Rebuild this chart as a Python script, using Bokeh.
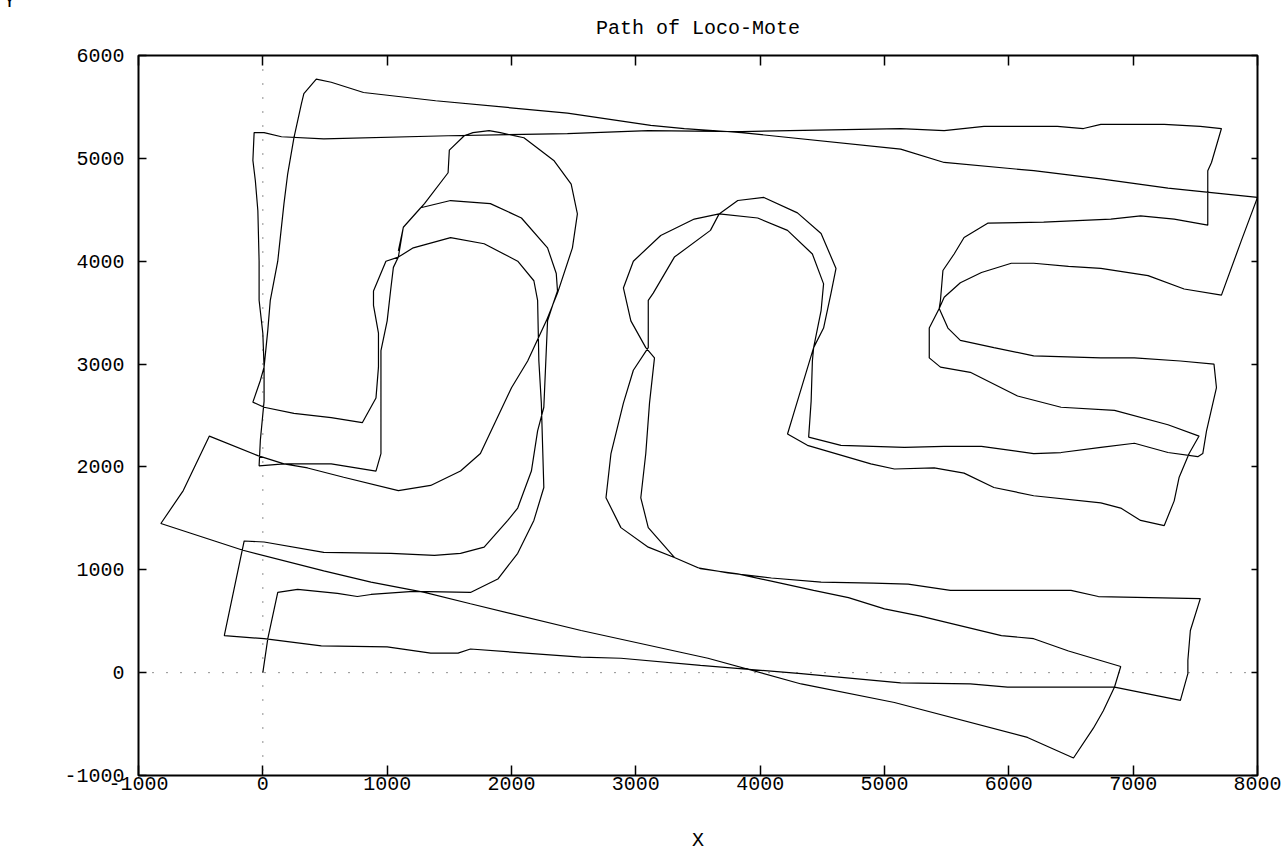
from bokeh.plotting import figure
from bokeh.models import Range1d, FixedTicker, LinearAxis, Span, Title
from bokeh.embed import file_html
from bokeh.resources import INLINE

title_text = "Path of Loco-Mote"
x_label = "X"
y_label = "Y"
x_ticks = [-1000, 0, 1000, 2000, 3000, 4000, 5000, 6000, 7000, 8000]
y_ticks = [-1000, 0, 1000, 2000, 3000, 4000, 5000, 6000]
x_tick_labels = ["-1000", "0", "1000", "2000", "3000", "4000", "5000", "6000", "7000", "8000"]
y_tick_labels = ["-1000", "0", "1000", "2000", "3000", "4000", "5000", "6000"]

path_x = [0, 40, 120, 280, 600, 760, 870, 1210, 1670, 1890, 2050, 2180, 2260, 2240, 2220, 2210,
          2180, 2050, 1780, 1510, 1210, 1090, 990, 890, 890, 930, 930, 910, 800, 550, 250, 10, -80,
          -20, 10, 0, -30, -30, -40, -60, -80, -70, 10, 150, 490, 1490, 2450, 3100, 3850, 5130,
          5480, 5800, 6390, 6600, 6740, 7250, 7540, 7710, 7630, 7600, 7600, 7330, 7060, 6820, 6280,
          5830, 5640, 5560, 5470, 5450, 5440, 5360, 5360, 5450, 5690, 6070, 6420, 6850, 7280, 7530,
          7450, 7370, 7330, 7250, 7060, 6900, 6740, 6200, 5880, 5640, 5400, 5080, 4890, 4380, 4220,
          4270, 4430, 4510, 4570, 4610, 4490, 4300, 4030, 3820, 3670, 3600, 3310, 3140, 3100, 3100,
          2980, 2900, 2800, 2760, 2880, 3100, 3310, 3520, 3820, 4090, 4430, 4710, 5000, 5290, 5940,
          6200, 6480, 6900, 6850, 6760, 6680, 6520, 6150, 5080, 4330, 3580, 2560, 1670, 1300, 870,
          490, -160, -820, -640, -430, -40, 170, 360, 650, 1090, 1350, 1590, 1750, 2000, 2130, 2280,
          2370, 2490, 2530, 2480, 2340, 2100, 1910, 1820, 1690, 1620, 1500, 1490, 1300, 1130, 1090,
          1050, 1030, 1000, 950, 950, 910, 550, 170, -30, -20, 10, 10, 40, 60, 120, 170, 200, 250,
          310, 330, 430, 550, 810, 1390, 2450, 3120, 3390, 3850, 5130, 5480, 6200, 6740, 7280, 8000,
          7870, 7710, 7410, 7120, 6740, 6480, 6200, 6020, 5780, 5610, 5480, 5440, 5510, 5610, 5880,
          6200, 6740, 7010, 7380, 7650, 7670, 7590, 7560, 7520, 7280, 7010, 6740, 6420, 6200, 5780,
          5480, 5160, 4650, 4390, 4410, 4420, 4430, 4490, 4510, 4420, 4220, 3980, 3670, 3470, 3200,
          2980, 2900, 2960, 3080, 3150, 3110, 3080, 3040, 3100, 3310, 3500, 3740, 4090, 4490, 4910,
          5190, 5530, 6500, 6720, 7540, 7460, 7440, 7440, 7380, 6850, 5990, 5690, 5130, 4330, 3520,
          2880, 2560, 1670, 1570, 1350, 1000, 470, 10, -310, -150, 10, 490, 1030, 1380, 1590, 1780,
          1970, 2050, 2160, 2210, 2260, 2290, 2330, 2370, 2360, 2290, 2080, 1830, 1510, 1270, 1130,
          1090]
path_y = [0, 330, 780, 810, 770, 740, 760, 790, 780, 910, 1160, 1480, 1800, 2620, 3030, 3620,
          3810, 4000, 4170, 4230, 4130, 4040, 4000, 3710, 3570, 3300, 2970, 2670, 2430, 2480, 2520,
          2580, 2630, 2840, 2970, 3300, 3620, 4000, 4490, 4780, 4980, 5250, 5250, 5210, 5190, 5220,
          5240, 5270, 5260, 5290, 5270, 5310, 5310, 5290, 5330, 5330, 5310, 5290, 4960, 4880, 4350,
          4410, 4440, 4410, 4380, 4370, 4230, 4070, 3910, 3620, 3540, 3350, 3060, 2970, 2920, 2690,
          2580, 2550, 2410, 2300, 2130, 1900, 1670, 1430, 1480, 1600, 1650, 1720, 1800, 1940, 1990,
          1980, 2030, 2210, 2320, 2520, 3160, 3350, 3690, 3930, 4270, 4470, 4620, 4590, 4460, 4300,
          4040, 3690, 3620, 3160, 2940, 2620, 2130, 1700, 1410, 1220, 1120, 1010, 960, 890, 800, 730,
          620, 550, 360, 330, 210, 60, -140, -370, -540, -830, -630, -290, -110, 140, 410, 670, 780,
          880, 990, 1190, 1450, 1770, 2300, 2110, 2030, 1990, 1900, 1770, 1820, 1960, 2130, 2770,
          3030, 3420, 3690, 4130, 4460, 4750, 4980, 5200, 5250, 5270, 5250, 5220, 5080, 4860, 4560,
          4330, 4040, 3940, 3740, 3420, 3130, 2130, 1960, 2030, 2030, 2010, 2260, 2640, 2970, 3330,
          3620, 4000, 4560, 4850, 5200, 5530, 5630, 5770, 5740, 5640, 5560, 5440, 5320, 5290, 5250,
          5090, 4960, 4880, 4800, 4710, 4620, 4200, 3670, 3730, 3860, 3930, 3950, 3980, 3980, 3890,
          3790, 3650, 3540, 3350, 3230, 3160, 3080, 3060, 3060, 3030, 3000, 2770, 2350, 2130, 2100,
          2140, 2230, 2190, 2140, 2130, 2200, 2200, 2190, 2210, 2290, 2640, 3030, 3160, 3520, 3780,
          4070, 4300, 4420, 4460, 4410, 4250, 4000, 3740, 3420, 3160, 3060, 2620, 2130, 1700, 1410,
          1120, 1020, 970, 920, 880, 870, 860, 800, 800, 740, 720, 410, 120, -10, -270, -140, -140,
          -110, -100, -10, 70, 140, 150, 230, 190, 190, 250, 260, 330, 360, 1280, 1270, 1170, 1160,
          1140, 1160, 1220, 1480, 1600, 1960, 2350, 2580, 3420, 3570, 3710, 3880, 4130, 4420, 4560,
          4590, 4520, 4330, 4100]

FONT = "Liberation Mono"
FS = "20px"

W, H = 1287, 859
p = figure(width=W, height=H,
           x_range=Range1d(x_ticks[0], x_ticks[-1]),
           y_range=Range1d(y_ticks[0], y_ticks[-1]),
           x_axis_type=None, y_axis_type=None,
           output_backend="svg", toolbar_location=None,
           min_border_left=138, min_border_right=30,
           min_border_top=55, min_border_bottom=84)
p.title.text = ""
p.background_fill_color = "white"
p.border_fill_color = "white"
p.outline_line_color = "black"
p.outline_line_width = 2


def make_axis(ticks, labels, tick_in, show_labels, standoff):
    overrides = {t: (lab if show_labels else "") for t, lab in zip(ticks, labels)}
    ax = LinearAxis(ticker=FixedTicker(ticks=ticks), major_label_overrides=overrides)
    ax.axis_line_color = None
    ax.major_tick_in = tick_in
    ax.major_tick_out = 0
    ax.major_tick_line_color = "black"
    ax.major_tick_line_width = 1.5
    ax.minor_tick_line_color = None
    ax.major_label_text_font = FONT
    ax.major_label_text_font_size = FS
    ax.major_label_text_color = "black"
    ax.major_label_standoff = standoff
    return ax


bottom_axis = make_axis(x_ticks, x_tick_labels, 10, True, 1)
bottom_axis.axis_label = x_label
bottom_axis.axis_label_text_font = FONT
bottom_axis.axis_label_text_font_size = FS
bottom_axis.axis_label_text_font_style = "normal"
bottom_axis.axis_label_text_color = "black"
bottom_axis.axis_label_standoff = 36
p.add_layout(bottom_axis, "below")
p.add_layout(make_axis(x_ticks, x_tick_labels, 10, False, 0), "above")
p.add_layout(make_axis(y_ticks, y_tick_labels, 8, True, 14), "left")
p.add_layout(make_axis(y_ticks, y_tick_labels, 6, False, 0), "right")

p.add_layout(Title(text=title_text, align="center", vertical_align="top", standoff=28,
                   text_font=FONT, text_font_size=FS, text_font_style="normal",
                   text_color="black"), "above")
p.add_layout(Title(text=y_label, align="left", vertical_align="top", standoff=-25,
                   offset=-135, text_font=FONT, text_font_size=FS,
                   text_font_style="normal", text_color="black"), "above")

p.add_layout(Span(location=0, dimension="height", line_color="#222222",
                  line_width=1, line_dash="1 13"))
p.add_layout(Span(location=0, dimension="width", line_color="#222222",
                  line_width=1, line_dash="1 13"))

p.line(path_x, path_y, line_color="black", line_width=1.2)

open("out.html", "w").write(file_html(p, INLINE))
